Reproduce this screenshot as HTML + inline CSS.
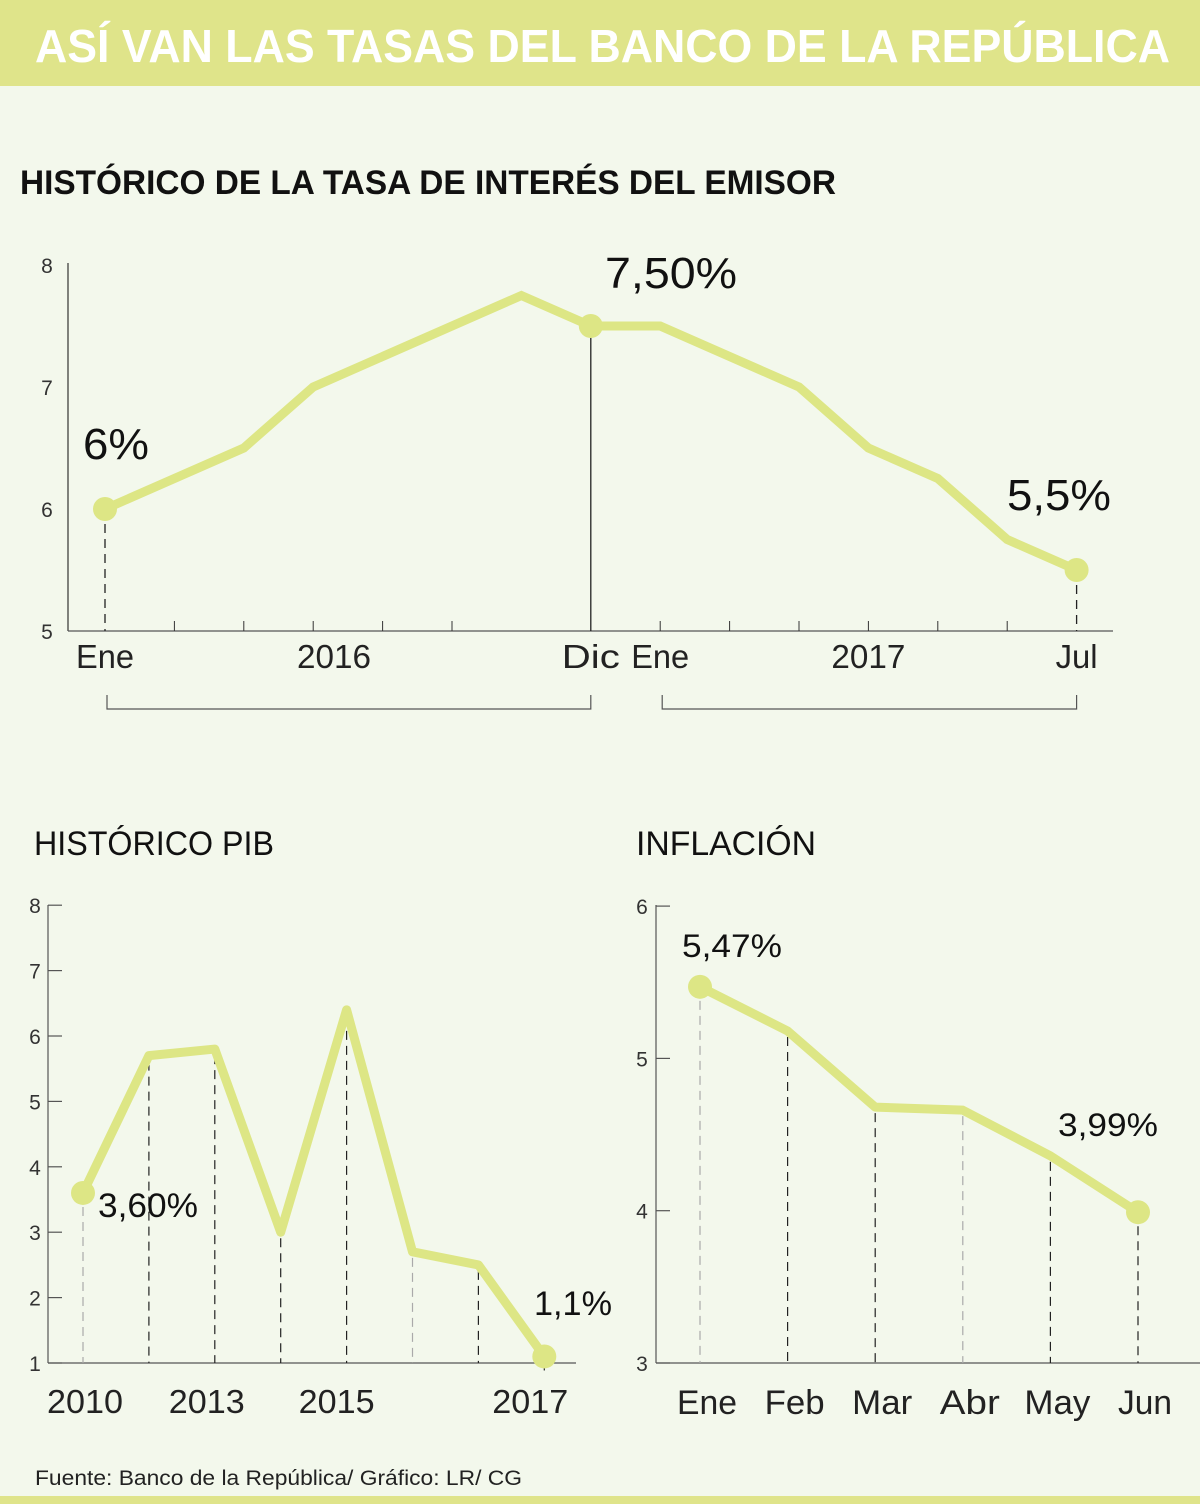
<!DOCTYPE html>
<html><head><meta charset="utf-8"><style>
html,body{margin:0;padding:0;background:#f3f8ec;}
svg{display:block;font-family:"Liberation Sans",sans-serif;}
</style></head><body>
<svg id="s" width="1200" height="1504" viewBox="0 0 1200 1504">
<rect x="0" y="0" width="1200" height="1504" fill="#f3f8ec"/>
<rect x="0" y="0" width="1200" height="86" fill="#dfe48a"/>
<text x="35" y="62" font-size="46" font-weight="bold" fill="#fff" textLength="1135" lengthAdjust="spacingAndGlyphs">ASÍ VAN LAS TASAS DEL BANCO DE LA REPÚBLICA</text>
<text x="20" y="194" font-size="34" font-weight="bold" fill="#111" textLength="816" lengthAdjust="spacingAndGlyphs">HISTÓRICO DE LA TASA DE INTERÉS DEL EMISOR</text>
<text x="34" y="855" font-size="34" fill="#111" textLength="240" lengthAdjust="spacingAndGlyphs">HISTÓRICO PIB</text>
<text x="636" y="855" font-size="34" fill="#111" textLength="180" lengthAdjust="spacingAndGlyphs">INFLACIÓN</text>
<text x="35" y="1485" font-size="21" fill="#222" textLength="487" lengthAdjust="spacingAndGlyphs">Fuente: Banco de la República/ Gráfico: LR/ CG</text>
<rect x="0" y="1496" width="1200" height="8" fill="#dfe48a"/>
<g id="g1"></g>
<g id="g2"></g>
<g id="g3"></g>
</svg>
<script>
// Chart 1: policy rate
const rateIdx = [0,2,3,6,7,8,10,11,12,13,14];
const rateVals = [6.0,6.5,7.0,7.75,7.5,7.5,7.0,6.5,6.25,5.75,5.5];
const rateYTicks = [5,6,7,8];
const rateXLabels = ["Ene","2016","Dic","Ene","2017","Jul"];
const rateXLabelIdx = [0,3.3,7,8,11,14];
const rateCallouts = ["6%","7,50%","5,5%"];
// Chart 2: GDP
const gdpVals = [3.6,5.7,5.8,3.0,6.4,2.7,2.5,1.1];
const gdpYTicks = [1,2,3,4,5,6,7,8];
const gdpXLabels = ["2010","2013","2015","2017"];
const gdpXLabelIdx = [0,2,4,7];
const gdpCallouts = ["3,60%","1,1%"];
// Chart 3: inflation
const infCats = ["Ene","Feb","Mar","Abr","May","Jun"];
const infVals = [5.47,5.18,4.68,4.66,4.36,3.99];
const infYTicks = [3,4,5,6];
const infCallouts = ["5,47%","3,99%"];

const NS="http://www.w3.org/2000/svg";
const LINE="#dde685";
function mk(parent,tag,attrs,txt){const e=document.createElementNS(NS,tag);for(const k in attrs)e.setAttribute(k,attrs[k]);if(txt!==undefined)e.textContent=txt;parent.appendChild(e);return e;}

// ---- Chart 1 ----
(function(){
const g=document.getElementById('g1');
const x=i=>105+i*69.4, y=v=>631-(v-5)*122;
let e=mk(g,'line',{x1:68,y1:263,x2:68,y2:631,stroke:'#333','stroke-width':1.2});

e=mk(g,'line',{x1:68,y1:631,x2:1113,y2:631,stroke:'#555','stroke-width':1.2});

rateYTicks.forEach(v=>{const t=mk(g,'text',{x:47,y:y(v)+8,'font-size':21,'text-anchor':'middle',fill:'#333'},String(v));
});
for(let i=1;i<14;i++){if(i===6||i===7)continue;const t=mk(g,'line',{x1:x(i),y1:621,x2:x(i),y2:631,stroke:'#333','stroke-width':1});
}
rateXLabels.forEach((l,k)=>{const t=mk(g,'text',{x:x(rateXLabelIdx[k]),y:668,'font-size':33,'text-anchor':'middle',fill:'#222',textLength:l.length>3?74:(l==="Jul"?42:58),lengthAdjust:'spacingAndGlyphs'},l);
});
// brackets
[[0,7],[8,14]].forEach(b=>{const p=mk(g,'path',{d:`M${x(b[0])+2} 695 V709 H${x(b[1])} V695`,fill:'none',stroke:'#555','stroke-width':1.2});
});
// drop lines
const n=rateIdx.length;
e=mk(g,'line',{x1:x(0),y1:y(rateVals[0])+15,x2:x(0),y2:631,stroke:'#222','stroke-width':1.3,'stroke-dasharray':'9,6'});

e=mk(g,'line',{x1:x(7),y1:y(rateVals[4]),x2:x(7),y2:631,stroke:'#222','stroke-width':1.3});

e=mk(g,'line',{x1:x(14),y1:y(rateVals[n-1])+15,x2:x(14),y2:631,stroke:'#222','stroke-width':1.3,'stroke-dasharray':'9,6'});

const pts=rateIdx.map((i,k)=>x(i)+','+y(rateVals[k])).join(' ');
e=mk(g,'polyline',{points:pts,fill:'none',stroke:LINE,'stroke-width':9,'stroke-linejoin':'miter'});

[0,4,n-1].forEach(k=>{const c=mk(g,'circle',{cx:x(rateIdx[k]),cy:y(rateVals[k]),r:12,fill:LINE});
});
const cl=[[83,459,66],[605,288,132],[1007,510,104]];
rateCallouts.forEach((s,k)=>{const t=mk(g,'text',{x:cl[k][0],y:cl[k][1],'font-size':44,fill:'#111',textLength:cl[k][2],lengthAdjust:'spacingAndGlyphs'},s);
});
})();

// ---- Chart 2 ----
(function(){
const g=document.getElementById('g2');
const x=i=>83+i*65.9, y=v=>1363-(v-1)*65.4;
let e=mk(g,'line',{x1:48,y1:905,x2:48,y2:1363,stroke:'#555','stroke-width':1.2});

e=mk(g,'line',{x1:48,y1:1363,x2:576,y2:1363,stroke:'#555','stroke-width':1.2});

gdpYTicks.forEach(v=>{let t=mk(g,'line',{x1:48,y1:y(v),x2:62,y2:y(v),stroke:'#555','stroke-width':1.2});

t=mk(g,'text',{x:35,y:y(v)+8,'font-size':21,'text-anchor':'middle',fill:'#333'},String(v));
});
gdpVals.forEach((v,i)=>{const light=(i===0||i===5);const t=mk(g,'line',{x1:x(i),y1:y(v)+(i===0||i===7?14:6),x2:x(i),y2:1363,stroke:light?'#aaa':'#222','stroke-width':1.2,'stroke-dasharray':'9,6'});
});
gdpXLabels.forEach((l,k)=>{const t=mk(g,'text',{x:x(gdpXLabelIdx[k])+(k===3?-14:(k===1?-8:(k===2?-10:2))),y:1413,'font-size':33,'text-anchor':'middle',fill:'#222',textLength:76,lengthAdjust:'spacingAndGlyphs'},l);
});
e=mk(g,'polyline',{points:gdpVals.map((v,i)=>x(i)+','+y(v)).join(' '),fill:'none',stroke:LINE,'stroke-width':9,'stroke-linejoin':'round'});

[0,gdpVals.length-1].forEach(i=>{const c=mk(g,'circle',{cx:x(i),cy:y(gdpVals[i]),r:12,fill:LINE});
});
const cl=[[98,1217,100],[534,1315,78]];
gdpCallouts.forEach((s,k)=>{const t=mk(g,'text',{x:cl[k][0],y:cl[k][1],'font-size':34,fill:'#111',textLength:cl[k][2],lengthAdjust:'spacingAndGlyphs'},s);
});
})();

// ---- Chart 3 ----
(function(){
const g=document.getElementById('g3');
const x=i=>700+i*87.6, y=v=>1363-(v-3)*152.3;
let e=mk(g,'line',{x1:656,y1:905,x2:656,y2:1363,stroke:'#555','stroke-width':1.2});

e=mk(g,'line',{x1:656,y1:1363,x2:1200,y2:1363,stroke:'#555','stroke-width':1.2});

infYTicks.forEach(v=>{let t=mk(g,'line',{x1:656,y1:y(v),x2:670,y2:y(v),stroke:'#555','stroke-width':1.2});

t=mk(g,'text',{x:642,y:y(v)+8,'font-size':21,'text-anchor':'middle',fill:'#333'},String(v));
});
infVals.forEach((v,i)=>{const light=(i===0||i===3);const t=mk(g,'line',{x1:x(i),y1:y(v)+(i===0||i===5?14:6),x2:x(i),y2:1363,stroke:light?'#aaa':'#222','stroke-width':1.2,'stroke-dasharray':'9,6'});
});
infCats.forEach((l,i)=>{const t=mk(g,'text',{x:x(i)+7,y:1414,'font-size':34,'text-anchor':'middle',fill:'#222',textLength:l==="May"?66:(l==="Jun"?54:60),lengthAdjust:'spacingAndGlyphs'},l);
});
e=mk(g,'polyline',{points:infVals.map((v,i)=>x(i)+','+y(v)).join(' '),fill:'none',stroke:LINE,'stroke-width':9,'stroke-linejoin':'round'});

[0,infVals.length-1].forEach(i=>{const c=mk(g,'circle',{cx:x(i),cy:y(infVals[i]),r:12,fill:LINE});
});
const cl=[[682,957,100],[1058,1136,100]];
infCallouts.forEach((s,k)=>{const t=mk(g,'text',{x:cl[k][0],y:cl[k][1],'font-size':32,fill:'#111',textLength:cl[k][2],lengthAdjust:'spacingAndGlyphs'},s);
});
})();
</script>
</body></html>
